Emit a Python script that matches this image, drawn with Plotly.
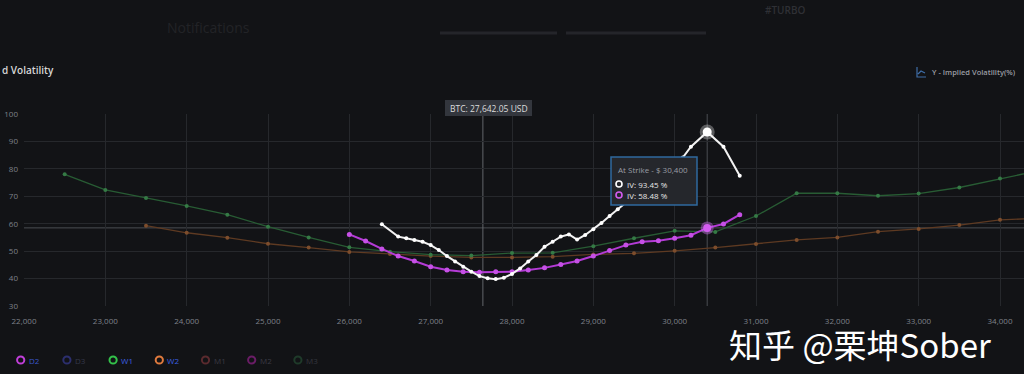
import plotly.graph_objects as go

# ---------------- data ----------------
white_strikes = [26400, 26600, 26700, 26800, 26900, 27000, 27100, 27200, 27300, 27400,
                 27500, 27600, 27700, 27800, 27900, 28000, 28100, 28200, 28300, 28400,
                 28500, 28600, 28700, 28800, 28900, 29000, 29100, 29200, 29300, 29400,
                 29500, 29600, 29700, 29800, 29900, 30000, 30100, 30200, 30400, 30600, 30800]
white_iv = [59.8, 55.3, 54.7, 54.1, 53.4, 52.2, 50.4, 48.2, 46.2, 44.3,
            42.5, 40.9, 40.1, 39.8, 40.3, 41.7, 43.7, 46.2, 48.6, 51.6,
            53.4, 55.3, 56.1, 54.2, 55.9, 58.0, 60.3, 62.8, 65.3, 67.8,
            70.2, 72.6, 75.0, 77.3, 79.6, 81.8, 84.1, 88.1, 93.45, 88.1, 77.5]

d2_strikes = [26000, 26200, 26400, 26600, 26800, 27000, 27200, 27400, 27600, 27800,
              28000, 28200, 28400, 28600, 28800, 29000, 29200, 29400, 29600, 29800,
              30000, 30200, 30400, 30600, 30800]
d2_iv = [56.1, 53.7, 50.8, 48.2, 46.4, 44.3, 43.1, 42.5, 42.3, 42.5,
         42.5, 43.1, 43.9, 45.1, 46.4, 48.2, 50.2, 52.2, 53.4, 53.8,
         54.7, 55.8, 58.48, 59.9, 63.3]

w1_strikes = [22500, 23000, 23500, 24000, 24500, 25000, 25500, 26000, 26500, 27000,
              27500, 28000, 28500, 29000, 29500, 30000, 30500, 31000, 31500, 32000,
              32500, 33000, 33500, 34000, 34500]
w1_iv = [78.0, 72.3, 69.4, 66.5, 63.3, 58.9, 55.0, 51.4, 49.8, 48.7,
         48.4, 49.3, 49.4, 51.8, 54.7, 57.4, 57.0, 62.8, 71.1, 71.1,
         70.2, 71.0, 73.2, 76.5, 79.5]

w2_strikes = [23500, 24000, 24500, 25000, 25500, 26000, 26500, 27000, 27500, 28000,
              28500, 29000, 29500, 30000, 30500, 31000, 31500, 32000, 32500, 33000,
              33500, 34000, 34500]
w2_iv = [59.3, 56.7, 54.9, 52.7, 51.3, 49.7, 49.0, 48.2, 47.7, 47.7,
         48.0, 48.8, 49.2, 50.1, 51.3, 52.6, 54.1, 55.0, 57.1, 58.1,
         59.5, 61.4, 62.0]

btc_price = 27642.05
hover_strike = 30400
hover_white_iv = 93.45
hover_d2_iv = 58.48

legend_names = ["D2", "D3", "W1", "W2", "M1", "M2", "M3"]
y_ticks = [30, 40, 50, 60, 70, 80, 90, 100]

# ---------------- styling ----------------
BG = "#121316"
GRID = "#26282c"
TICK = "#7f828a"
FONT = "Open Sans"

L, T, B = 24, 114, 68
W, H = 1024, 374
PW, PH = W - L, H - T - B


def px(xp):
    return (xp - L) / PW


def py(yp):
    return (T + PH - yp) / PH


fig = go.Figure()

fig.add_trace(go.Scatter(x=w2_strikes, y=w2_iv, mode="lines+markers",
                         line=dict(color="#5e3a22", width=1.3),
                         marker=dict(color="#7d4d2c", size=4)))
fig.add_trace(go.Scatter(x=w1_strikes, y=w1_iv, mode="lines+markers",
                         line=dict(color="#285c34", width=1.3),
                         marker=dict(color="#357a45", size=4)))
fig.add_trace(go.Scatter(x=d2_strikes, y=d2_iv, mode="lines+markers",
                         line=dict(color="#b43bd6", width=2),
                         marker=dict(color="#c650e6", size=5)))
fig.add_trace(go.Scatter(x=white_strikes, y=white_iv, mode="lines+markers",
                         line=dict(color="#f2f2f2", width=2),
                         marker=dict(color="#ffffff", size=4)))

# highlighted points at hovered strike
hi = white_strikes.index(hover_strike)
hd = d2_strikes.index(hover_strike)
fig.add_trace(go.Scatter(x=[white_strikes[hi]], y=[white_iv[hi]], mode="markers",
                         marker=dict(color="rgba(255,255,255,0.3)", size=15)))
fig.add_trace(go.Scatter(x=[white_strikes[hi]], y=[white_iv[hi]], mode="markers",
                         marker=dict(color="#ffffff", size=9)))
fig.add_trace(go.Scatter(x=[d2_strikes[hd]], y=[d2_iv[hd]], mode="markers",
                         marker=dict(color="rgba(220,110,255,0.4)", size=13)))
fig.add_trace(go.Scatter(x=[d2_strikes[hd]], y=[d2_iv[hd]], mode="markers",
                         marker=dict(color="#d45cf0", size=8)))

shapes = []
annotations = []

# crosshairs
shapes.append(dict(type="line", xref="paper", yref="y", x0=0, x1=1,
                   y0=hover_d2_iv, y1=hover_d2_iv, line=dict(color="#4a4d53", width=1),
                   layer="below"))
shapes.append(dict(type="line", xref="x", yref="paper", x0=hover_strike, x1=hover_strike,
                   y0=0, y1=1, line=dict(color="#4a4d53", width=1), layer="below"))
shapes.append(dict(type="line", xref="x", yref="paper", x0=btc_price, x1=btc_price,
                   y0=0, y1=py(104), line=dict(color="#62656b", width=1), layer="below"))

# BTC price label
shapes.append(dict(type="rect", xref="paper", yref="paper", x0=px(445), x1=px(532),
                   y0=py(116), y1=py(100), fillcolor="#33363d", line=dict(width=0)))
annotations.append(dict(text=f"BTC: {btc_price:,.2f} USD", x=px(488.5), y=py(108),
                        xanchor="center",
                        font=dict(family=FONT, size=8.5, color="#dcdcdc")))

# tooltip
shapes.append(dict(type="rect", xref="paper", yref="paper", x0=px(611), x1=px(697),
                   y0=py(205), y1=py(157), fillcolor="#25272c",
                   line=dict(color="#2f6a9e", width=1.5)))
annotations.append(dict(text=f"At Strike - $ {hover_strike:,}", x=px(616), y=py(169),
                        xanchor="left",
                        font=dict(family=FONT, size=8, color="#9a9da4")))
for yy, col, val in [(184, "#ffffff", hover_white_iv), (195, "#d45cf0", hover_d2_iv)]:
    shapes.append(dict(type="circle", xref="paper", yref="paper",
                       x0=px(616), x1=px(622), y0=py(yy + 3), y1=py(yy - 3),
                       line=dict(color=col, width=1.6), fillcolor="rgba(0,0,0,0)"))
    annotations.append(dict(text=f"IV: {val:.2f} %", x=px(625), y=py(yy), xanchor="left",
                            font=dict(family=FONT, size=8, color="#e6e6e6")))

# title fragments
annotations.append(dict(text="d Volatility", x=px(0), y=py(70), xanchor="left",
                        font=dict(family=FONT, size=10, color="#d8d8d8", weight=600)))
annotations.append(dict(text="Y - Implied Volatility(%)", x=px(930), y=py(72), xanchor="left",
                        font=dict(family=FONT, size=7.5, color="#9a9ca3", weight=600)))
shapes.append(dict(type="path", xref="paper", yref="paper",
                   path=f"M {px(917)} {py(67)} L {px(917)} {py(77)} L {px(926)} {py(77)} "
                        f"M {px(918)} {py(74)} L {px(921)} {py(71)} L {px(925)} {py(73)}",
                   line=dict(color="#3f6ea8", width=1.2)))

# faint header (blurred background page)
annotations.append(dict(text="Notifications", x=px(165), y=py(27), xanchor="left",
                        font=dict(family=FONT, size=14, color="#222327")))
annotations.append(dict(text="#TURBO", x=px(763), y=py(10), xanchor="left",
                        font=dict(family=FONT, size=10, color="#2f3035", weight=600)))
shapes.append(dict(type="line", xref="paper", yref="paper", x0=px(440), x1=px(557),
                   y0=py(33), y1=py(33), line=dict(color="#24252a", width=3)))
shapes.append(dict(type="line", xref="paper", yref="paper", x0=px(566), x1=px(706),
                   y0=py(33), y1=py(33), line=dict(color="#24252a", width=3)))

# bottom legend
ring_cols = ["#c13fd9", "#2c2f6e", "#33c24a", "#e07a3e", "#5a2a2e", "#6a1d66", "#1f3b2a"]
text_cols = ["#3a56c8", "#35384a", "#3b5fe0", "#3b5fe0", "#3a3a44", "#3a3a44", "#34363e"]
for i, name in enumerate(legend_names):
    cx = 20.7 + i * 46.2
    cy = 360
    shapes.append(dict(type="circle", xref="paper", yref="paper",
                       x0=px(cx - 3.6), x1=px(cx + 3.6), y0=py(cy + 3.6), y1=py(cy - 3.6),
                       line=dict(color=ring_cols[i], width=2), fillcolor="rgba(0,0,0,0)"))
    annotations.append(dict(text=name, x=px(cx + 6), y=py(cy), xanchor="left",
                            font=dict(family=FONT, size=8, color=text_cols[i])))

# watermark
annotations.append(dict(text="知乎 @栗坤Sober", x=px(860), y=py(344), xanchor="center",
                        font=dict(family="Noto Sans CJK SC", size=33, color="#ffffff")))

for a in annotations:
    a.update(xref="paper", yref="paper", yanchor="middle", showarrow=False)

fig.update_layout(
    width=W, height=H,
    margin=dict(l=L, r=0, t=T, b=B, pad=0),
    paper_bgcolor=BG, plot_bgcolor=BG,
    showlegend=False, hovermode=False,
    shapes=shapes, annotations=annotations,
    font=dict(family=FONT, color=TICK),
)
fig.update_xaxes(range=[22000, 34295], tick0=22000, dtick=1000, tickformat=",d",
                 showgrid=True, gridcolor=GRID, gridwidth=1, zeroline=False, showline=False,
                 ticks="", ticklabelstandoff=9,
                 tickfont=dict(family=FONT, size=8, color=TICK))
fig.update_yaxes(range=[30, 100], tickvals=y_ticks,
                 showgrid=True, gridcolor=GRID, gridwidth=1, zeroline=False, showline=False,
                 ticks="", ticklabelstandoff=5,
                 tickfont=dict(family=FONT, size=8, color=TICK))

fig.write_html("out.html", config={"displayModeBar": False},
               post_script="document.body.style.margin='0';"
                           "document.body.style.overflow='hidden';"
                           "document.body.style.background='#121316';")
